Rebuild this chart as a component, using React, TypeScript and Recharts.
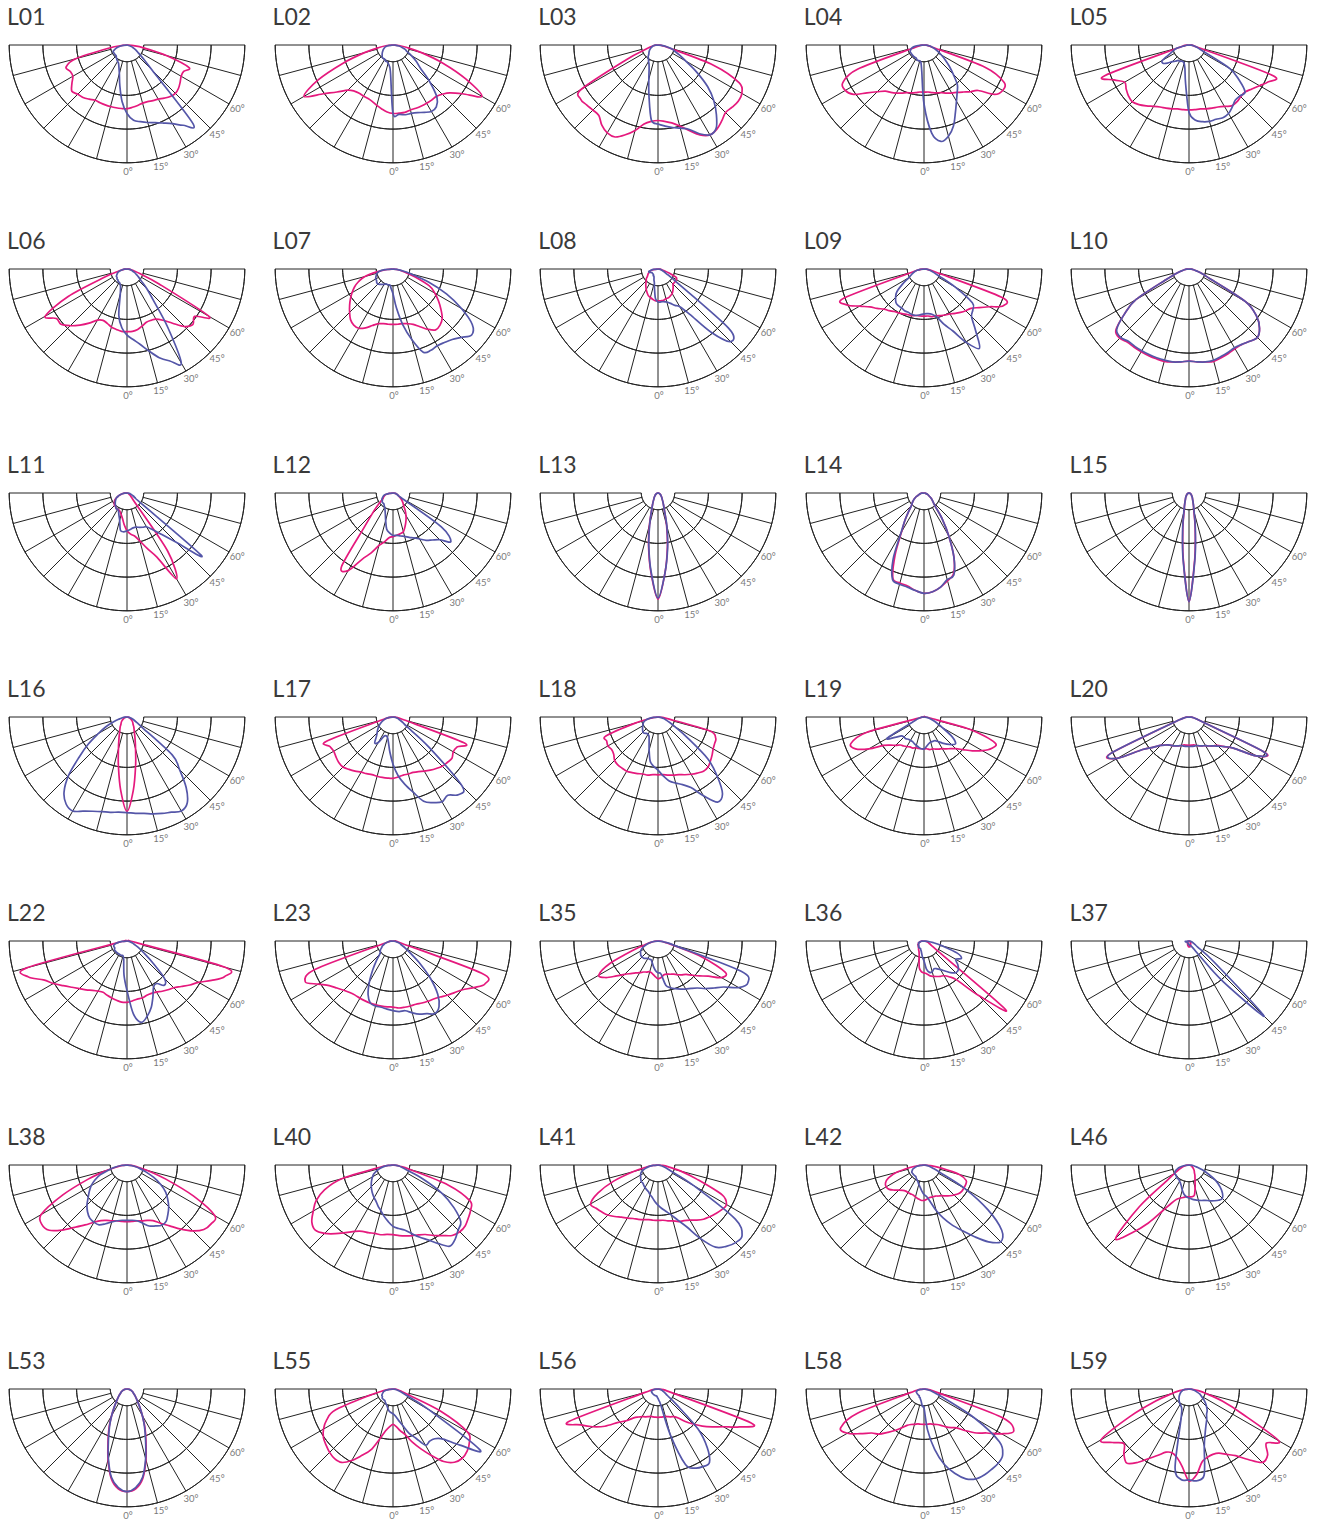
import React from "react";
import { RadarChart, Radar, PolarGrid, PolarAngleAxis, PolarRadiusAxis } from "recharts";

// gamma angles from nadir, left (-) to right (+)
const ANGLES = [-90, -85, -80, -75, -70, -65, -60, -55, -50, -45, -40, -35, -30, -25, -20, -15, -10, -5, 0, 5, 10, 15, 20, 25, 30, 35, 40, 45, 50, 55, 60, 65, 70, 75, 80, 85, 90];
const LABEL_TICKS = [-90, -75, -60, -45, -30, -15, 0, 15, 30, 45, 60, 75, 90];

const NAMES = ["L01", "L02", "L03", "L04", "L05", "L06", "L07", "L08", "L09", "L10", "L11", "L12", "L13", "L14", "L15", "L16", "L17", "L18", "L19", "L20", "L22", "L23", "L35", "L36", "L37", "L38", "L40", "L41", "L42", "L46", "L53", "L55", "L56", "L58", "L59"];

// relative intensity, C0-C180 plane (pink) and C90-C270 plane (blue)
const l01C0 = [0, 4, 16, 45, 55, 53, 53, 57, 61, 59, 58, 56, 54, 54, 54, 54, 54, 54, 54, 53, 52, 51, 51, 52, 53, 55, 57, 58, 57, 55, 53, 53, 56, 35, 15, 4, 0];
const l01C90 = [0, 3, 6, 9, 11, 13, 13, 13, 13, 13, 14, 15, 16, 17, 20, 25, 35, 48, 58, 64, 66, 68, 70, 73, 77, 83, 87, 30, 18, 12, 9, 6, 4, 2, 1, 0, 0];
const l02C0 = [0, 5, 12, 25, 45, 70, 87, 72, 62, 54, 51, 50, 50, 50, 51, 53, 55, 57, 58, 58, 58, 57, 57, 57, 57, 57, 57, 59, 63, 72, 87, 68, 45, 25, 12, 5, 0];
const l02C90 = [0, 3, 5, 7, 8, 9, 10, 11, 12, 13, 14, 14, 14, 15, 15, 16, 18, 24, 58, 59, 60, 60, 61, 63, 65, 64, 58, 44, 30, 24, 18, 13, 11, 8, 5, 2, 0];
const l03C0 = [0, 2, 4, 7, 12, 30, 75, 80, 79, 78, 78, 83, 86, 86, 81, 75, 68, 65, 64, 65, 67, 71, 77, 84, 88, 87, 84, 81, 82, 83, 82, 76, 50, 10, 4, 2, 0];
const l03C90 = [0, 2, 4, 5, 6, 7, 8, 9, 10, 11, 13, 14, 16, 18, 22, 30, 44, 64, 67, 69, 71, 73, 76, 83, 88, 86, 77, 67, 55, 40, 27, 20, 15, 12, 7, 3, 0];
const l04C0 = [0, 2, 4, 8, 60, 76, 77, 73, 63, 56, 51, 49, 47, 45, 43, 42, 41, 40, 40, 40, 41, 42, 43, 45, 47, 49, 52, 56, 60, 73, 77, 75, 55, 8, 4, 2, 0];
const l04C90 = [0, 5, 9, 11, 12, 13, 13, 13, 13, 13, 13, 13, 13, 14, 14, 14, 15, 22, 50, 75, 83, 80, 73, 63, 55, 49, 44, 35, 28, 22, 17, 13, 10, 7, 5, 2, 0];
const l05C0 = [0, 2, 4, 10, 76, 70, 63, 65, 67, 68, 66, 63, 60, 58, 57, 56, 55, 55, 55, 55, 55, 56, 57, 58, 60, 63, 63, 62, 62, 65, 69, 74, 75, 8, 4, 2, 0];
const l05C90 = [0, 2, 4, 11, 14, 18, 26, 27, 24, 20, 18, 16, 16, 15, 15, 16, 20, 33, 57, 64, 66, 67, 67, 68, 67, 64, 61, 61, 62, 52, 40, 15, 9, 6, 4, 2, 0];
const l06C0 = [0, 2, 4, 8, 20, 55, 80, 73, 73, 68, 62, 56, 50, 48, 49, 51, 52, 53, 53, 53, 52, 50, 48, 48, 49, 53, 60, 69, 73, 70, 80, 30, 12, 6, 3, 2, 0];
const l06C90 = [0, 2, 4, 6, 8, 9, 10, 11, 11, 12, 12, 13, 13, 14, 16, 22, 40, 50, 56, 60, 65, 72, 80, 86, 92, 60, 35, 24, 16, 12, 9, 7, 5, 4, 3, 1, 0];
const l07C0 = [0, 5, 14, 25, 31, 36, 40, 44, 48, 52, 56, 58, 58, 55, 51, 48, 47, 47, 47, 47, 47, 48, 50, 54, 59, 63, 62, 59, 53, 47, 41, 34, 20, 10, 6, 3, 0];
const l07C90 = [0, 8, 12, 14, 15, 16, 17, 17, 18, 18, 17, 16, 15, 14, 14, 14, 14, 17, 21, 33, 48, 62, 75, 76, 75, 76, 78, 82, 87, 82, 67, 50, 32, 15, 7, 3, 0];
const l08C0 = [0, 3, 5, 7, 8, 9, 10, 11, 13, 14, 16, 18, 20, 22, 24, 25, 26, 27, 27, 27, 27, 26, 26, 25, 24, 22, 20, 18, 18, 18, 18, 17, 10, 5, 3, 2, 0];
const l08C90 = [0, 4, 6, 8, 8, 7, 6, 6, 6, 6, 6, 7, 7, 8, 10, 12, 17, 25, 28, 28, 28, 29, 31, 34, 37, 47, 70, 87, 78, 18, 9, 6, 4, 3, 2, 1, 0];
const l09C0 = [0, 2, 4, 10, 72, 72, 63, 56, 52, 48, 46, 44, 43, 42, 41, 41, 40, 40, 40, 40, 41, 41, 42, 43, 44, 46, 48, 50, 52, 57, 64, 74, 70, 10, 4, 2, 0];
const l09C90 = [0, 3, 6, 8, 10, 12, 15, 22, 30, 34, 37, 38, 38, 39, 39, 40, 40, 39, 38, 38, 39, 42, 50, 58, 72, 82, 68, 57, 54, 50, 30, 14, 9, 6, 4, 2, 0];
const l10C0 = [0, 2, 4, 7, 12, 22, 52, 67, 81, 83, 81, 81, 81, 81, 81, 81, 80, 79, 78, 79, 80, 81, 80, 79, 78, 78, 80, 82, 78, 70, 55, 20, 12, 7, 4, 2, 0];
const l10C90 = [0, 2, 4, 7, 12, 22, 52, 67, 80, 82, 80, 80, 80, 80, 80, 80, 80, 79, 78, 79, 80, 80, 79, 78, 77, 78, 80, 82, 78, 70, 55, 20, 12, 7, 4, 2, 0];
const l11C0 = [0, 2, 4, 6, 8, 10, 12, 13, 14, 15, 15, 16, 16, 16, 17, 19, 22, 27, 32, 35, 37, 42, 50, 60, 84, 60, 10, 6, 4, 3, 2, 2, 1, 1, 0, 0, 0];
const l11C90 = [0, 2, 4, 6, 8, 10, 11, 12, 13, 14, 15, 16, 16, 17, 20, 24, 32, 33, 32, 31, 30, 30, 31, 32, 33, 38, 46, 59, 82, 12, 8, 6, 4, 3, 2, 1, 0];
const l12C0 = [0, 3, 5, 7, 8, 9, 10, 13, 18, 25, 38, 76, 76, 62, 54, 46, 42, 38, 37, 36, 35, 34, 30, 26, 22, 18, 14, 12, 10, 8, 6, 5, 4, 3, 2, 1, 0];
const l12C90 = [0, 3, 6, 8, 9, 10, 11, 11, 12, 12, 12, 13, 14, 16, 19, 24, 31, 34, 36, 36, 37, 38, 40, 42, 45, 49, 52, 56, 64, 50, 8, 5, 4, 3, 2, 1, 0];
const l13C0 = [0, 0, 0, 1, 1, 2, 2, 3, 3, 4, 5, 6, 8, 11, 16, 28, 46, 68, 90, 68, 46, 28, 16, 11, 8, 6, 5, 4, 3, 3, 2, 2, 1, 1, 0, 0, 0];
const l13C90 = [0, 0, 0, 1, 1, 2, 2, 3, 3, 4, 5, 6, 8, 11, 16, 27, 45, 67, 89, 68, 47, 29, 16, 11, 8, 6, 5, 4, 3, 3, 2, 2, 1, 1, 0, 0, 0];
const l14C0 = [0, 2, 3, 4, 5, 7, 9, 11, 13, 15, 20, 28, 38, 58, 77, 79, 80, 83, 85, 84, 81, 77, 73, 60, 42, 27, 15, 11, 9, 7, 5, 4, 3, 2, 1, 1, 0];
const l14C90 = [0, 2, 3, 4, 5, 7, 9, 11, 13, 15, 20, 28, 39, 62, 78, 80, 81, 83, 85, 84, 81, 76, 74, 60, 42, 27, 15, 11, 9, 7, 5, 4, 3, 2, 1, 1, 0];
const l15C0 = [0, 0, 0, 1, 1, 1, 2, 2, 3, 3, 4, 5, 6, 8, 11, 16, 30, 56, 92, 56, 30, 16, 11, 8, 6, 5, 4, 3, 3, 2, 2, 1, 1, 1, 0, 0, 0];
const l15C90 = [0, 0, 0, 1, 1, 1, 2, 2, 3, 3, 4, 5, 6, 8, 11, 17, 31, 57, 92, 57, 31, 17, 11, 8, 6, 5, 4, 3, 3, 2, 2, 1, 1, 1, 0, 0, 0];
const l16C0 = [0, 1, 1, 2, 3, 3, 4, 5, 6, 7, 8, 10, 12, 15, 20, 28, 42, 62, 80, 62, 42, 28, 20, 15, 12, 10, 8, 7, 6, 5, 4, 3, 3, 2, 1, 1, 0];
const l16C90 = [0, 2, 4, 7, 12, 20, 28, 40, 53, 70, 83, 90, 92, 88, 85, 83, 82, 81, 81, 82, 83, 85, 87, 89, 92, 89, 78, 63, 50, 17, 10, 7, 5, 3, 2, 1, 0];
const l17C0 = [0, 2, 4, 10, 60, 59, 58, 59, 60, 60, 58, 56, 54, 53, 52, 52, 52, 52, 52, 51, 50, 50, 50, 51, 53, 55, 57, 59, 60, 61, 59, 60, 64, 10, 4, 2, 0];
const l17C90 = [0, 3, 5, 7, 9, 11, 13, 15, 17, 19, 22, 27, 25, 18, 17, 18, 22, 30, 40, 50, 58, 66, 76, 80, 83, 81, 86, 83, 40, 15, 10, 7, 5, 4, 2, 1, 0];
const l18C0 = [0, 3, 6, 20, 47, 48, 49, 48, 49, 52, 53, 53, 53, 52, 51, 50, 50, 49, 49, 49, 50, 51, 52, 54, 56, 58, 60, 60, 58, 56, 54, 53, 52, 45, 8, 3, 0];
const l18C90 = [0, 4, 8, 11, 13, 14, 15, 16, 17, 18, 18, 17, 17, 18, 22, 29, 38, 42, 45, 50, 55, 58, 61, 66, 77, 88, 85, 71, 55, 30, 17, 11, 7, 5, 3, 1, 0];
const l19C0 = [0, 2, 3, 50, 66, 64, 54, 42, 37, 34, 31, 30, 29, 28, 28, 27, 27, 27, 27, 27, 28, 28, 29, 30, 31, 33, 35, 38, 43, 50, 57, 63, 64, 40, 5, 2, 0];
const l19C90 = [0, 2, 3, 5, 7, 12, 36, 30, 25, 24, 24, 23, 23, 23, 24, 25, 26, 27, 27, 25, 23, 22, 22, 22, 24, 27, 30, 33, 35, 29, 18, 12, 8, 5, 3, 1, 0];
const l20C0 = [0, 2, 4, 7, 15, 74, 70, 48, 40, 34, 31, 29, 28, 27, 26, 25, 24, 24, 24, 24, 24, 25, 26, 27, 28, 30, 32, 34, 39, 46, 66, 71, 12, 7, 4, 2, 0];
const l20C90 = [0, 2, 4, 7, 15, 73, 70, 48, 40, 34, 31, 29, 28, 27, 26, 25, 25, 25, 25, 25, 25, 25, 26, 27, 28, 30, 32, 35, 39, 46, 66, 70, 12, 7, 4, 2, 0];
const l22C0 = [0, 3, 8, 88, 89, 78, 72, 66, 61, 57, 54, 51, 49, 48, 49, 50, 51, 52, 52, 51, 50, 50, 49, 49, 50, 52, 54, 56, 60, 65, 70, 79, 88, 86, 8, 3, 0];
const l22C90 = [0, 4, 8, 11, 12, 12, 12, 13, 13, 13, 13, 13, 13, 13, 13, 13, 16, 29, 42, 62, 70, 66, 60, 52, 45, 44, 49, 45, 28, 17, 11, 7, 5, 3, 2, 1, 0];
const l23C0 = [0, 2, 4, 8, 70, 82, 73, 66, 62, 59, 57, 56, 56, 56, 56, 56, 56, 56, 56, 57, 57, 57, 57, 58, 59, 60, 62, 65, 68, 72, 79, 86, 80, 8, 4, 2, 0];
const l23C90 = [0, 2, 4, 6, 8, 10, 11, 13, 14, 16, 22, 30, 40, 50, 56, 57, 57, 58, 59, 60, 60, 63, 66, 68, 71, 68, 59, 45, 30, 18, 12, 8, 6, 4, 2, 1, 0];
const l35C0 = [0, 2, 5, 10, 22, 45, 58, 54, 46, 40, 36, 33, 31, 29, 28, 27, 28, 30, 32, 31, 29, 29, 30, 31, 33, 35, 37, 41, 46, 52, 62, 63, 40, 12, 5, 2, 0];
const l35C90 = [0, 3, 6, 9, 12, 15, 17, 18, 19, 19, 19, 18, 17, 17, 17, 19, 22, 25, 27, 28, 38, 41, 43, 45, 47, 49, 52, 57, 62, 68, 79, 84, 75, 15, 6, 3, 0];
const l36C0 = [0, 2, 3, 4, 5, 5, 6, 6, 6, 7, 7, 8, 9, 10, 12, 16, 23, 26, 27, 28, 30, 31, 32, 33, 34, 37, 43, 65, 90, 12, 7, 5, 4, 3, 2, 1, 0];
const l36C90 = [0, 2, 3, 4, 5, 5, 5, 6, 6, 6, 7, 7, 7, 7, 8, 9, 11, 14, 17, 24, 27, 27, 25, 26, 28, 31, 35, 38, 38, 35, 31, 35, 30, 16, 8, 3, 0];
const l37C0 = [0, 0, 1, 1, 1, 1, 1, 1, 1, 2, 2, 2, 2, 3, 3, 4, 4, 5, 5, 5, 5, 4, 4, 3, 3, 2, 2, 2, 1, 1, 1, 1, 1, 0, 0, 0, 0];
const l37C90 = [0, 3, 3, 3, 2, 2, 2, 2, 2, 2, 2, 2, 2, 2, 2, 2, 3, 3, 3, 3, 4, 4, 4, 5, 7, 14, 45, 90, 28, 9, 6, 4, 3, 2, 1, 1, 0];
const l38C0 = [0, 4, 8, 18, 35, 60, 84, 88, 86, 78, 69, 62, 56, 52, 50, 49, 48, 48, 48, 48, 48, 49, 50, 52, 57, 63, 71, 79, 85, 87, 86, 62, 35, 18, 8, 4, 0];
const l38C90 = [0, 5, 10, 16, 24, 30, 35, 39, 43, 48, 52, 55, 56, 56, 53, 50, 48, 47, 47, 47, 48, 51, 55, 57, 59, 58, 54, 50, 45, 40, 33, 25, 17, 11, 6, 3, 0];
const l40C0 = [0, 4, 12, 45, 62, 72, 78, 84, 86, 82, 76, 70, 65, 62, 61, 60, 60, 59, 59, 60, 61, 62, 63, 65, 69, 73, 78, 80, 80, 78, 76, 72, 50, 15, 6, 3, 0];
const l40C90 = [0, 4, 8, 12, 15, 18, 20, 22, 24, 26, 28, 30, 32, 34, 37, 40, 44, 48, 52, 54, 56, 60, 65, 70, 77, 84, 82, 78, 75, 63, 48, 28, 12, 8, 5, 2, 0];
const l41C0 = [0, 4, 10, 22, 40, 56, 66, 64, 62, 60, 57, 54, 52, 50, 49, 48, 47, 47, 47, 47, 48, 49, 51, 52, 54, 57, 60, 62, 64, 66, 67, 60, 35, 20, 9, 4, 0];
const l41C90 = [0, 4, 8, 11, 14, 16, 17, 18, 19, 20, 20, 21, 22, 23, 24, 26, 28, 31, 34, 37, 40, 44, 50, 58, 72, 85, 90, 93, 93, 80, 35, 12, 7, 4, 2, 1, 0];
const l42C0 = [0, 4, 12, 24, 32, 36, 37, 36, 33, 30, 28, 27, 27, 27, 27, 28, 29, 30, 30, 29, 28, 28, 28, 29, 30, 32, 34, 36, 38, 39, 39, 39, 38, 31, 15, 5, 0];
const l42C90 = [0, 3, 6, 8, 10, 11, 12, 12, 12, 12, 12, 12, 13, 14, 15, 17, 19, 22, 25, 27, 32, 40, 48, 56, 64, 74, 85, 92, 86, 66, 40, 15, 8, 5, 3, 1, 0];
const l46C0 = [0, 2, 3, 5, 7, 10, 14, 22, 55, 88, 75, 60, 45, 36, 31, 29, 28, 27, 27, 27, 26, 20, 15, 12, 10, 8, 7, 6, 5, 4, 3, 3, 2, 2, 1, 0, 0];
const l46C90 = [0, 3, 6, 9, 11, 13, 14, 14, 14, 15, 15, 15, 16, 17, 19, 22, 25, 27, 28, 29, 30, 31, 32, 33, 35, 37, 39, 40, 37, 32, 26, 18, 12, 7, 4, 2, 0];
const l53C0 = [0, 1, 2, 3, 4, 5, 6, 7, 9, 11, 14, 19, 26, 36, 47, 62, 77, 85, 87, 85, 77, 62, 47, 36, 26, 19, 14, 11, 9, 7, 6, 5, 4, 3, 2, 1, 0];
const l53C90 = [0, 1, 2, 3, 4, 5, 6, 7, 9, 11, 14, 19, 26, 35, 46, 61, 76, 84, 87, 84, 76, 61, 46, 35, 26, 19, 14, 11, 9, 7, 6, 5, 4, 3, 2, 1, 0];
const l55C0 = [0, 3, 8, 20, 52, 62, 68, 72, 74, 76, 77, 76, 70, 62, 55, 44, 36, 32, 30, 32, 36, 40, 48, 56, 65, 75, 81, 83, 82, 79, 73, 45, 12, 7, 4, 2, 0];
const l55C90 = [0, 3, 6, 8, 9, 10, 11, 11, 12, 12, 12, 12, 13, 14, 15, 17, 19, 20, 21, 23, 27, 32, 40, 46, 55, 54, 55, 60, 74, 90, 35, 12, 7, 4, 2, 1, 0];
const l56C0 = [0, 3, 6, 12, 80, 72, 64, 55, 44, 38, 32, 29, 27, 26, 25, 24, 24, 24, 24, 24, 24, 24, 25, 26, 27, 30, 36, 42, 49, 56, 64, 76, 84, 12, 6, 3, 0];
const l56C90 = [0, 2, 4, 5, 6, 6, 6, 6, 6, 6, 6, 6, 6, 6, 6, 6, 6, 7, 8, 10, 14, 40, 68, 74, 76, 76, 65, 48, 20, 10, 7, 5, 4, 3, 2, 1, 0];
const l58C0 = [0, 3, 6, 12, 60, 78, 75, 66, 58, 54, 48, 43, 38, 34, 32, 31, 30, 30, 30, 30, 30, 31, 32, 34, 37, 40, 43, 50, 58, 65, 76, 84, 70, 12, 6, 3, 0];
const l58C90 = [0, 3, 5, 6, 7, 7, 7, 7, 7, 7, 7, 7, 8, 8, 9, 10, 12, 15, 16, 35, 52, 66, 76, 84, 88, 89, 89, 89, 87, 78, 50, 20, 10, 6, 3, 1, 0];
const l59C0 = [0, 3, 8, 15, 30, 55, 86, 79, 72, 78, 82, 76, 68, 62, 57, 56, 59, 66, 78, 73, 63, 60, 59, 60, 64, 69, 78, 88, 87, 80, 88, 50, 30, 15, 8, 3, 0];
const l59C90 = [0, 3, 5, 6, 7, 8, 9, 10, 11, 12, 13, 14, 15, 16, 18, 26, 68, 77, 77, 78, 74, 50, 40, 34, 30, 26, 24, 21, 18, 15, 12, 10, 7, 5, 3, 2, 0];

const C0_SERIES = [l01C0, l02C0, l03C0, l04C0, l05C0, l06C0, l07C0, l08C0, l09C0, l10C0, l11C0, l12C0, l13C0, l14C0, l15C0, l16C0, l17C0, l18C0, l19C0, l20C0, l22C0, l23C0, l35C0, l36C0, l37C0, l38C0, l40C0, l41C0, l42C0, l46C0, l53C0, l55C0, l56C0, l58C0, l59C0];
const C90_SERIES = [l01C90, l02C90, l03C90, l04C90, l05C90, l06C90, l07C90, l08C90, l09C90, l10C90, l11C90, l12C90, l13C90, l14C90, l15C90, l16C90, l17C90, l18C90, l19C90, l20C90, l22C90, l23C90, l35C90, l36C90, l37C90, l38C90, l40C90, l41C90, l42C90, l46C90, l53C90, l55C90, l56C90, l58C90, l59C90];

const PINK = "#e5197d";
const BLUE = "#5456a8";
const GRID = "#222";

// geometry of one diagram
const W = 246;
const H = 190;
const CX = 119;
const CY = 37;
const R_OUT = 118;
const R_IN = 16.7;
const RINGS = [16.7, 50.4, 84.1, 117.8];
const SPOKES = [180, 195, 210, 225, 240, 255, 270, 285, 300, 315, 330, 345, 360];
// half-circle arcs traced forward and back so no chord closes them
const ARC_ANGLES: number[] = [];
for (let a = 180; a <= 360; a += 2) ARC_ANGLES.push(a);
for (let a = 358; a > 180; a -= 2) ARC_ANGLES.push(a);

const COL_W = 265.6;
const ROW_H = 224;
const COLS = 5;

function AngleTick(props: any) {
  const { x, y, payload } = props;
  const v = payload?.value;
  if (v < 0 || v > 60) return <g />;
  return (
    <text x={x + 1} y={y} textAnchor="middle" dominantBaseline="central" fontSize={9.5} fill="#7a7a7a" fontFamily="Lato, 'Open Sans', sans-serif">
      {`${v}°`}
    </text>
  );
}

// smooth curve through the points recharts has placed (Catmull-Rom -> cubic Bezier)
function smoothShape(color: string) {
  return (props: any) => {
    const pts = (props.points || []).filter((p: any) => Number.isFinite(p.x) && Number.isFinite(p.y));
    if (pts.length < 2) return <g />;
    const k = 0.16;
    let d = `M${pts[0].x},${pts[0].y}`;
    for (let i = 0; i < pts.length - 1; i++) {
      const p0 = pts[Math.max(i - 1, 0)];
      const p1 = pts[i];
      const p2 = pts[i + 1];
      const p3 = pts[Math.min(i + 2, pts.length - 1)];
      const c1x = p1.x + (p2.x - p0.x) * k;
      const c1y = p1.y + (p2.y - p0.y) * k;
      const c2x = p2.x - (p3.x - p1.x) * k;
      const c2y = p2.y - (p3.y - p1.y) * k;
      d += ` C${c1x},${c1y} ${c2x},${c2y} ${p2.x},${p2.y}`;
    }
    return <path d={d} fill="none" stroke={color} strokeWidth={1.7} strokeLinejoin="round" />;
  };
}
const pinkShape = smoothShape(PINK);
const blueShape = smoothShape(BLUE);

function PolarDiagram({ name, c0, c90 }: { name: string; c0: number[]; c90: number[] }) {
  const data = ANGLES.map((angle, i) => ({ angle, c0: c0[i], c90: c90[i] }));
  const margin = { top: 0, right: 0, bottom: 0, left: 0 };
  return (
    <div style={{ position: "relative", width: COL_W, height: ROW_H }}>
      <div style={{ position: "absolute", left: -1, top: -4, fontSize: 23, lineHeight: "24px", color: "#3a3a3a", fontFamily: "Lato, 'Open Sans', sans-serif", whiteSpace: "nowrap" }}>
        {name}
      </div>
      {/* grid layer */}
      <div style={{ position: "absolute", left: 0, top: 0 }}>
        <RadarChart width={W} height={H} data={data} cx={CX} cy={CY} outerRadius={R_OUT} innerRadius={R_IN} startAngle={180} endAngle={360} margin={margin}>
          <PolarGrid gridType="polygon" radialLines={false} polarAngles={ARC_ANGLES} polarRadius={RINGS} stroke={GRID} strokeWidth={1} fill="none" />
          <PolarGrid gridType="polygon" radialLines={true} polarAngles={SPOKES} polarRadius={[]} stroke={GRID} strokeWidth={1} fill="none" />
          <PolarAngleAxis dataKey="angle" type="number" domain={[-90, 90]} ticks={LABEL_TICKS} tickCount={13} axisLine={false} tickLine={false} tick={AngleTick} />
          <PolarRadiusAxis domain={[0, 100]} tick={false} axisLine={false} />
        </RadarChart>
      </div>
      {/* curves */}
      <div style={{ position: "absolute", left: 0, top: 0 }}>
        <RadarChart width={W} height={H} data={data} cx={CX} cy={CY} outerRadius={R_OUT} innerRadius={0} startAngle={180} endAngle={360} margin={margin}>
          <PolarAngleAxis dataKey="angle" type="number" domain={[-90, 90]} tick={false} axisLine={false} tickLine={false} />
          <PolarRadiusAxis domain={[0, 100]} tick={false} axisLine={false} />
          <Radar dataKey="c0" stroke={PINK} strokeWidth={1.7} fill="none" fillOpacity={0} dot={false} shape={pinkShape} isAnimationActive={false} />
          <Radar dataKey="c90" stroke={BLUE} strokeWidth={1.7} fill="none" fillOpacity={0} dot={false} shape={blueShape} isAnimationActive={false} />
        </RadarChart>
      </div>
    </div>
  );
}

export default function App() {
  return (
    <>
      <style>{`body{overflow:hidden;background:#fff}`}</style>
      <div style={{ position: "relative", width: 1309, height: 1511 }}>
        {NAMES.map((name, i) => (
          <div key={name} style={{ position: "absolute", left: (i % COLS) * COL_W, top: Math.floor(i / COLS) * ROW_H }}>
            <PolarDiagram name={name} c0={C0_SERIES[i]} c90={C90_SERIES[i]} />
          </div>
        ))}
      </div>
    </>
  );
}
